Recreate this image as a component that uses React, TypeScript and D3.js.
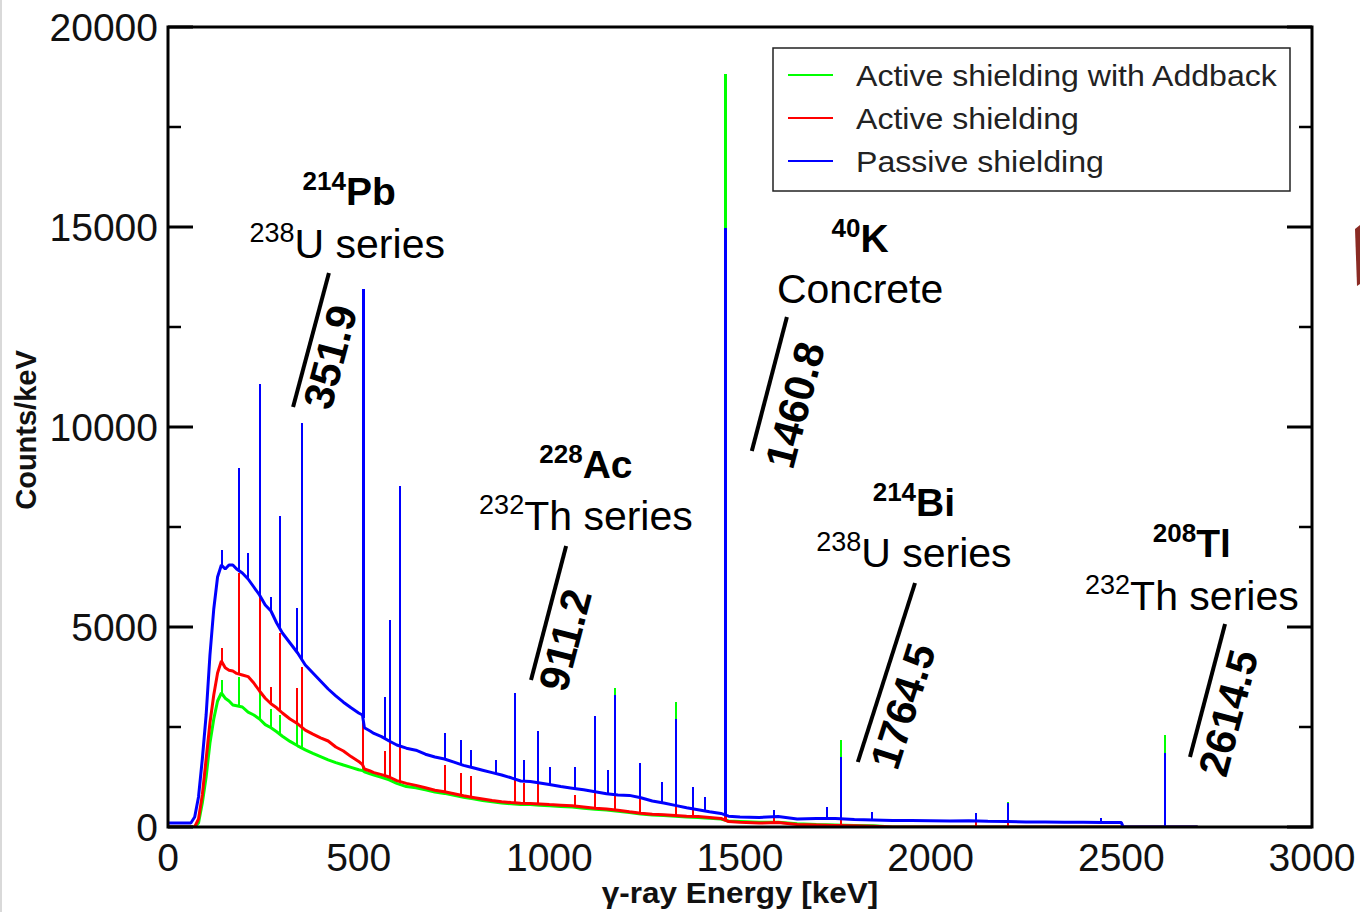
import React, { useEffect, useRef } from 'react';
import * as d3 from 'd3';

const WIDTH = 1360;
const HEIGHT = 912;

// continuum sampling grid (keV)
const contEnergy = [
  0, 60, 70, 80, 90, 100, 110, 120, 130, 140,
  150, 160, 170, 180, 195, 210, 225, 240, 255, 270,
  285, 300, 320, 340, 360, 380, 400, 420, 440, 460,
  480, 500, 510, 515, 530, 540, 560, 580, 600, 625,
  650, 675, 700, 725, 750, 775, 800, 825, 850, 875,
  900, 925, 950, 975, 1000, 1030, 1060, 1090, 1120, 1150,
  1180, 1210, 1240, 1270, 1300, 1330, 1360, 1390, 1420, 1450,
  1470, 1500, 1550, 1600, 1650, 1700, 1750, 1800, 1850, 1900,
  1950, 2000, 2050, 2100, 2150, 2200, 2250, 2300, 2350, 2400,
  2450, 2500, 2505, 2700,
];

// continuum counts/keV, passive shielding (blue)
const contPassive = [
  100, 100, 250, 750, 1700, 2800, 4300, 5450, 6250, 6550,
  6450, 6550, 6550, 6450, 6350, 6200, 6000, 5800, 5550, 5400,
  5100, 4850, 4600, 4350, 4050, 3850, 3650, 3450, 3280, 3120,
  2980, 2850, 2800, 2480, 2400, 2340, 2260, 2150, 2050, 1970,
  1920, 1820, 1750, 1700, 1620, 1540, 1480, 1420, 1360, 1300,
  1230, 1150, 1140, 1100, 1060, 1010, 970, 930, 880, 830,
  800, 790, 730, 650, 600, 540, 480, 430, 380, 340,
  270, 250, 240, 260, 200, 210, 210, 190, 175, 160,
  160, 155, 150, 155, 145, 140, 125, 125, 120, 120,
  115, 110, 0, 0,
];

// active shielding (red)
const contActive = [
  0, 0, 0, 200, 800, 1700, 2600, 3300, 3850, 4150,
  3980, 3920, 3900, 3840, 3800, 3760, 3600, 3400, 3220, 3080,
  2980, 2850, 2700, 2580, 2420, 2320, 2230, 2150, 2000, 1900,
  1760, 1640, 1560, 1450, 1400, 1360, 1310, 1250, 1160, 1090,
  1040, 980, 920, 880, 830, 780, 740, 700, 660, 630,
  610, 595, 590, 575, 560, 545, 530, 500, 470, 450,
  420, 380, 345, 320, 305, 290, 270, 260, 240, 215,
  135, 120, 100, 110, 60, 50, 40, 30, 20, 0,
  0, 0, 0, 0, 0, 0, 0, 0, 0, 0,
  0, 0, 0, 0,
];

// active shielding with addback (green)
const contAddback = [
  0, 0, 0, 100, 600, 1250, 2100, 2700, 3150, 3350,
  3220, 3150, 3050, 3030, 3000, 2870, 2800, 2700, 2560, 2480,
  2380, 2270, 2140, 2030, 1930, 1840, 1760, 1680, 1610, 1550,
  1490, 1430, 1410, 1380, 1330, 1300, 1240, 1180, 1090, 1010,
  980, 930, 875, 840, 790, 745, 705, 665, 630, 600,
  580, 565, 560, 545, 530, 515, 500, 470, 445, 425,
  395, 360, 325, 300, 285, 270, 250, 240, 220, 200,
  150, 140, 120, 120, 80, 60, 50, 40, 30, 0,
  0, 0, 0, 0, 0, 0, 0, 0, 0, 0,
  0, 0, 0, 0,
];

// gamma lines (keV) and peak tops (counts/keV), null = no visible line
const peakEnergy = [
  141, 186, 211, 242, 270, 295, 338, 352, 511, 569,
  583, 609, 727, 768, 794, 860, 911, 934, 969, 1003,
  1067, 1120, 1155, 1173, 1238, 1295, 1332, 1377, 1408, 1460,
  1588, 1729, 1764, 1847, 2118, 2204, 2447, 2614,
];
const peakPassive = [
  6925, 8975, 6840, 11075, 5750, 7775, 5475, 10100, 13450, 3260,
  5175, 8525, 2340, 2175, 1925, 1675, 3340, 1675, 2410, 1510,
  1510, 2775, 1430, 3300, 1590, 1130, 2710, 1000, 760, 14975,
  420, 500, 1760, 380, 350, 610, 230, 1840,
];
const peakActive = [
  4475, 6350, null, 6700, 3500, 4840, 3475, 4000, 3200, 1900,
  2340, 2200, 1550, 1340, 1280, null, 1260, 1090, 1175, null,
  800, 1385, null, 1000, 885, null, 800, 550, null, 14000,
  250, null, 450, null, 200, 120, null, 510,
];
const peakAddback = [
  3675, 3760, null, 4340, 2950, 2800, 2600, 2650, 1600, null,
  1350, 1200, 1450, 1250, 1200, null, 1200, null, 1100, null,
  null, 1300, null, 3465, 850, null, 3130, null, null, 18825,
  250, null, 2175, null, 250, 635, null, 2300,
];

const xTickValues = [0, 500, 1000, 1500, 2000, 2500, 3000];
const yTickValues = [0, 5000, 10000, 15000, 20000];
const yMinorValues = [2500, 7500, 12500, 17500];

const legendLabels = ['Active shielding with Addback', 'Active shielding', 'Passive shielding'];
const seriesColors = ['#00ff00', '#ff0000', '#0000ff'];

// line annotations
const annMass = ['214', '40', '228', '214', '208'];
const annSymbol = ['Pb', 'K', 'Ac', 'Bi', 'Tl'];
const annSourceMass = ['238', '', '232', '238', '232'];
const annSource = ['U series', 'Concrete', 'Th series', 'U series', 'Th series'];
const annLineEnergy = ['351.9', '1460.8', '911.2', '1764.5', '2614.5'];

// annotation layout in data units [keV, counts]
const ANN_LAYOUT = [
  { title: [475, 15550], source: [470, 14225], bar: [[328, 10500], [422, 13850]], label: [425, 11750] },
  { title: [1815, 14375], source: [1815, 13100], bar: [[1531, 9400], [1623, 12750]], label: [1644, 10550] },
  { title: [1096, 8725], source: [1096, 7425], bar: [[952, 3675], [1044, 7025]], label: [1041, 4675] },
  { title: [1956, 7775], source: [1956, 6500], bar: [[1809, 1625], [1959, 6100]], label: [1927, 3025] },
  { title: [2685, 6750], source: [2685, 5425], bar: [[2680, 1750], [2772, 5075]], label: [2780, 2850] },
];

const FONT = "'Liberation Sans', Arial, Helvetica, sans-serif";

export default function App() {
  const svgRef = useRef<SVGSVGElement>(null);

  useEffect(() => {
    if (!svgRef.current) return;
    const margin = { top: 27, right: 48, bottom: 85, left: 168 };
    const x0 = margin.left;
    const x1 = WIDTH - margin.right;
    const y0 = HEIGHT - margin.bottom;
    const y1 = margin.top;

    const svg = d3.select(svgRef.current);
    svg.selectAll('*').remove();
    svg.attr('width', WIDTH).attr('height', HEIGHT);

    svg.append('rect').attr('width', WIDTH).attr('height', HEIGHT).attr('fill', '#fff');
    svg.append('rect').attr('x', 0).attr('y', 0).attr('width', 2).attr('height', HEIGHT).attr('fill', '#d9d9d9');
    // clipped fragment at right page edge
    svg.append('path')
      .attr('d', 'M1355,229 L1360,225 L1360,284 L1357,286 Z')
      .attr('fill', '#8a2b24');

    const x = d3.scaleLinear().domain([0, 3000]).range([x0, x1]);
    const y = d3.scaleLinear().domain([0, 20000]).range([y0, y1]);

    svg.append('clipPath').attr('id', 'plot-clip')
      .append('rect').attr('x', x0).attr('y', y1).attr('width', x1 - x0).attr('height', y0 - y1);

    const plot = svg.append('g').attr('clip-path', 'url(#plot-clip)');

    const line = d3.line<[number, number]>()
      .x(d => x(d[0]))
      .y(d => y(d[1]));

    // drawn back to front: addback, active, passive
    const series = [
      { cont: contAddback, peaks: peakAddback, color: seriesColors[0] },
      { cont: contActive, peaks: peakActive, color: seriesColors[1] },
      { cont: contPassive, peaks: peakPassive, color: seriesColors[2] },
    ];

    series.forEach(s => {
      const pts = contEnergy.map((e, i) => [e, s.cont[i]] as [number, number]);
      plot.append('path')
        .datum(pts)
        .attr('d', line)
        .attr('fill', 'none')
        .attr('stroke', s.color)
        .attr('stroke-width', 3)
        .attr('stroke-linejoin', 'bevel');

      const baseAt = d3.scaleLinear().domain(contEnergy).range(s.cont);
      const spikes = peakEnergy
        .map((e, i) => ({ e, top: s.peaks[i] }))
        .filter(d => d.top != null) as { e: number; top: number }[];

      plot.selectAll(null)
        .data(spikes)
        .enter()
        .append('line')
        .attr('x1', d => Math.round(x(d.e)))
        .attr('x2', d => Math.round(x(d.e)))
        .attr('y1', d => y(baseAt(d.e)))
        .attr('y2', d => y(d.top))
        .attr('stroke', s.color)
        .attr('shape-rendering', 'crispEdges')
        .attr('stroke-width', d => (d.top > 12000 ? 3 : 2));
    });

    // frame
    svg.append('rect')
      .attr('x', x0).attr('y', y1)
      .attr('width', x1 - x0).attr('height', y0 - y1)
      .attr('fill', 'none')
      .attr('stroke', '#000')
      .attr('stroke-width', 3);

    // y ticks, inward on both sides
    [x0, x1].forEach((xe, side) => {
      const dir = side === 0 ? 1 : -1;
      svg.selectAll(null).data(yTickValues).enter().append('line')
        .attr('x1', xe).attr('x2', xe + dir * 25)
        .attr('y1', d => y(d)).attr('y2', d => y(d))
        .attr('stroke', '#000').attr('stroke-width', 3);
      svg.selectAll(null).data(yMinorValues).enter().append('line')
        .attr('x1', xe).attr('x2', xe + dir * 13)
        .attr('y1', d => y(d)).attr('y2', d => y(d))
        .attr('stroke', '#000').attr('stroke-width', 2.5);
    });

    svg.selectAll(null).data(yTickValues).enter().append('text')
      .attr('x', x0 - 10)
      .attr('y', d => y(d))
      .attr('dy', '0.36em')
      .attr('text-anchor', 'end')
      .style('font-family', FONT)
      .style('font-size', '39px')
      .style('fill', '#111')
      .text(d => String(d));

    svg.selectAll(null).data(xTickValues).enter().append('text')
      .attr('x', d => x(d))
      .attr('y', y0 + 44)
      .attr('text-anchor', 'middle')
      .style('font-family', FONT)
      .style('font-size', '39px')
      .style('fill', '#111')
      .text(d => String(d));

    // axis titles
    svg.append('text')
      .attr('transform', `translate(36,430) rotate(-90)`)
      .attr('text-anchor', 'middle')
      .style('font-family', FONT)
      .style('font-size', '29px')
      .style('font-weight', 'bold')
      .style('fill', '#111')
      .text('Counts/keV');

    svg.append('text')
      .attr('transform', `translate(${(x0 + x1) / 2},903) scale(1.05,1)`)
      .attr('text-anchor', 'middle')
      .style('font-family', FONT)
      .style('font-size', '30px')
      .style('font-weight', 'bold')
      .style('fill', '#111')
      .text('γ-ray Energy [keV]');

    // legend
    const lg = svg.append('g');
    lg.append('rect')
      .attr('x', 773).attr('y', 48).attr('width', 517).attr('height', 143)
      .attr('fill', '#fff').attr('stroke', '#222').attr('stroke-width', 1.5);
    legendLabels.forEach((lab, i) => {
      const ly = 75 + i * 43;
      lg.append('line')
        .attr('x1', 788).attr('x2', 833).attr('y1', ly).attr('y2', ly)
        .attr('stroke', seriesColors[i]).attr('stroke-width', 2);
      lg.append('text')
        .attr('transform', `translate(856,${ly + 11}) scale(1.07,1)`)
        .style('font-family', FONT)
        .style('font-size', '30px')
        .style('fill', '#222')
        .text(lab);
    });

    // annotations
    const ag = svg.append('g').style('font-family', FONT).style('fill', '#000');
    ANN_LAYOUT.forEach((a, i) => {
      const t = ag.append('text')
        .attr('x', x(a.title[0])).attr('y', y(a.title[1]))
        .attr('text-anchor', 'middle')
        .style('font-weight', 'bold');
      t.append('tspan').text(annMass[i]).style('font-size', '26px').attr('dy', -15);
      t.append('tspan').text(annSymbol[i]).style('font-size', '39px').attr('dy', 15);

      const s = ag.append('text')
        .attr('x', x(a.source[0])).attr('y', y(a.source[1]))
        .attr('text-anchor', 'middle');
      if (annSourceMass[i]) {
        s.append('tspan').text(annSourceMass[i]).style('font-size', '27px').attr('dy', -16);
        s.append('tspan').text(annSource[i]).style('font-size', '41px').attr('dy', 16);
      } else {
        s.append('tspan').text(annSource[i]).style('font-size', '41px');
      }

      const bx1 = x(a.bar[0][0]);
      const by1 = y(a.bar[0][1]);
      const bx2 = x(a.bar[1][0]);
      const by2 = y(a.bar[1][1]);
      ag.append('line')
        .attr('x1', bx1).attr('y1', by1).attr('x2', bx2).attr('y2', by2)
        .attr('stroke', '#000').attr('stroke-width', 4);
      const angle = (Math.atan2(by2 - by1, bx2 - bx1) * 180) / Math.PI;
      ag.append('text')
        .attr('transform', `translate(${x(a.label[0])},${y(a.label[1])}) rotate(${angle})`)
        .attr('text-anchor', 'middle')
        .attr('dy', '0.35em')
        .style('font-size', '42px')
        .style('font-weight', 'bold')
        .text(annLineEnergy[i]);
    });
  }, []);

  return (
    <svg
      ref={svgRef}
      width={WIDTH}
      height={HEIGHT}
      style={{ position: 'absolute', left: 0, top: 0, display: 'block' }}
    />
  );
}
